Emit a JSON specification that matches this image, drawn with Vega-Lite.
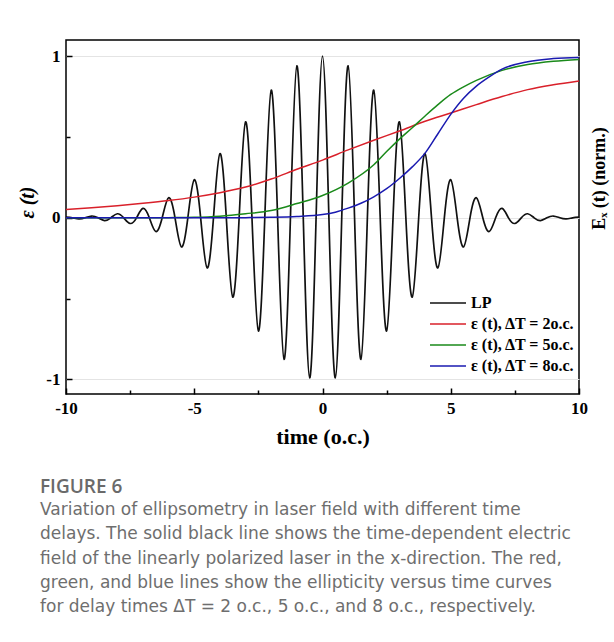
{
  "$schema": "https://vega.github.io/schema/vega-lite/v6.json",
  "width": 513,
  "height": 354,
  "autosize": {"type": "none"},
  "padding": {"left": 66, "top": 40, "right": 35, "bottom": 248},
  "background": "white",
  "datasets": {
    "lp": [
      {"t": -10, "v": 0.004, "s": "LP"}, {"t": -9.75, "v": 0, "s": "LP"}, {"t": -9.5, "v": -0.007, "s": "LP"}, {"t": -9.25, "v": 0, "s": "LP"},
      {"t": -9, "v": 0.011, "s": "LP"}, {"t": -8.75, "v": 0, "s": "LP"}, {"t": -8.5, "v": -0.017, "s": "LP"}, {"t": -8.25, "v": 0, "s": "LP"},
      {"t": -8, "v": 0.025, "s": "LP"}, {"t": -7.75, "v": 0, "s": "LP"}, {"t": -7.5, "v": -0.035, "s": "LP"}, {"t": -7.25, "v": 0, "s": "LP"},
      {"t": -7, "v": 0.058, "s": "LP"}, {"t": -6.75, "v": 0, "s": "LP"}, {"t": -6.5, "v": -0.085, "s": "LP"}, {"t": -6.25, "v": 0, "s": "LP"},
      {"t": -6, "v": 0.124, "s": "LP"}, {"t": -5.75, "v": 0, "s": "LP"}, {"t": -5.5, "v": -0.18, "s": "LP"}, {"t": -5.25, "v": 0, "s": "LP"},
      {"t": -5, "v": 0.235, "s": "LP"}, {"t": -4.75, "v": 0, "s": "LP"}, {"t": -4.5, "v": -0.31, "s": "LP"}, {"t": -4.25, "v": 0, "s": "LP"},
      {"t": -4, "v": 0.397, "s": "LP"}, {"t": -3.75, "v": 0, "s": "LP"}, {"t": -3.5, "v": -0.49, "s": "LP"}, {"t": -3.25, "v": 0, "s": "LP"},
      {"t": -3, "v": 0.593, "s": "LP"}, {"t": -2.75, "v": 0, "s": "LP"}, {"t": -2.5, "v": -0.7, "s": "LP"}, {"t": -2.25, "v": 0, "s": "LP"},
      {"t": -2, "v": 0.79, "s": "LP"}, {"t": -1.75, "v": 0, "s": "LP"}, {"t": -1.5, "v": -0.875, "s": "LP"}, {"t": -1.25, "v": 0, "s": "LP"},
      {"t": -1, "v": 0.94, "s": "LP"}, {"t": -0.75, "v": 0, "s": "LP"}, {"t": -0.5, "v": -0.99, "s": "LP"}, {"t": -0.25, "v": 0, "s": "LP"},
      {"t": 0, "v": 1.0, "s": "LP"},
      {"t": 0.25, "v": 0, "s": "LP"}, {"t": 0.5, "v": -0.99, "s": "LP"}, {"t": 0.75, "v": 0, "s": "LP"}, {"t": 1, "v": 0.94, "s": "LP"},
      {"t": 1.25, "v": 0, "s": "LP"}, {"t": 1.5, "v": -0.875, "s": "LP"}, {"t": 1.75, "v": 0, "s": "LP"}, {"t": 2, "v": 0.79, "s": "LP"},
      {"t": 2.25, "v": 0, "s": "LP"}, {"t": 2.5, "v": -0.7, "s": "LP"}, {"t": 2.75, "v": 0, "s": "LP"}, {"t": 3, "v": 0.593, "s": "LP"},
      {"t": 3.25, "v": 0, "s": "LP"}, {"t": 3.5, "v": -0.49, "s": "LP"}, {"t": 3.75, "v": 0, "s": "LP"}, {"t": 4, "v": 0.397, "s": "LP"},
      {"t": 4.25, "v": 0, "s": "LP"}, {"t": 4.5, "v": -0.31, "s": "LP"}, {"t": 4.75, "v": 0, "s": "LP"}, {"t": 5, "v": 0.235, "s": "LP"},
      {"t": 5.25, "v": 0, "s": "LP"}, {"t": 5.5, "v": -0.18, "s": "LP"}, {"t": 5.75, "v": 0, "s": "LP"}, {"t": 6, "v": 0.124, "s": "LP"},
      {"t": 6.25, "v": 0, "s": "LP"}, {"t": 6.5, "v": -0.085, "s": "LP"}, {"t": 6.75, "v": 0, "s": "LP"}, {"t": 7, "v": 0.058, "s": "LP"},
      {"t": 7.25, "v": 0, "s": "LP"}, {"t": 7.5, "v": -0.035, "s": "LP"}, {"t": 7.75, "v": 0, "s": "LP"}, {"t": 8, "v": 0.025, "s": "LP"},
      {"t": 8.25, "v": 0, "s": "LP"}, {"t": 8.5, "v": -0.017, "s": "LP"}, {"t": 8.75, "v": 0, "s": "LP"}, {"t": 9, "v": 0.011, "s": "LP"},
      {"t": 9.25, "v": 0, "s": "LP"}, {"t": 9.5, "v": -0.007, "s": "LP"}, {"t": 9.75, "v": 0, "s": "LP"}, {"t": 10, "v": 0.004, "s": "LP"}
    ],
    "eps": [
      {"t": -10, "v": 0.052, "s": "ε (t), ΔT = 2o.c."}, {"t": -9, "v": 0.062, "s": "ε (t), ΔT = 2o.c."}, {"t": -8, "v": 0.075, "s": "ε (t), ΔT = 2o.c."},
      {"t": -7, "v": 0.09, "s": "ε (t), ΔT = 2o.c."}, {"t": -6, "v": 0.107, "s": "ε (t), ΔT = 2o.c."}, {"t": -5, "v": 0.128, "s": "ε (t), ΔT = 2o.c."},
      {"t": -4, "v": 0.155, "s": "ε (t), ΔT = 2o.c."}, {"t": -3, "v": 0.19, "s": "ε (t), ΔT = 2o.c."}, {"t": -2, "v": 0.24, "s": "ε (t), ΔT = 2o.c."},
      {"t": -1, "v": 0.3, "s": "ε (t), ΔT = 2o.c."}, {"t": 0, "v": 0.357, "s": "ε (t), ΔT = 2o.c."}, {"t": 1, "v": 0.42, "s": "ε (t), ΔT = 2o.c."},
      {"t": 2, "v": 0.48, "s": "ε (t), ΔT = 2o.c."}, {"t": 3, "v": 0.537, "s": "ε (t), ΔT = 2o.c."}, {"t": 4, "v": 0.597, "s": "ε (t), ΔT = 2o.c."},
      {"t": 5, "v": 0.648, "s": "ε (t), ΔT = 2o.c."}, {"t": 6, "v": 0.7, "s": "ε (t), ΔT = 2o.c."}, {"t": 7, "v": 0.75, "s": "ε (t), ΔT = 2o.c."},
      {"t": 8, "v": 0.793, "s": "ε (t), ΔT = 2o.c."}, {"t": 9, "v": 0.823, "s": "ε (t), ΔT = 2o.c."}, {"t": 10, "v": 0.847, "s": "ε (t), ΔT = 2o.c."},
      {"t": -10, "v": 0, "s": "ε (t), ΔT = 5o.c."}, {"t": -7, "v": 0, "s": "ε (t), ΔT = 5o.c."}, {"t": -6, "v": 0.001, "s": "ε (t), ΔT = 5o.c."},
      {"t": -5, "v": 0.003, "s": "ε (t), ΔT = 5o.c."}, {"t": -4, "v": 0.01, "s": "ε (t), ΔT = 5o.c."}, {"t": -3, "v": 0.025, "s": "ε (t), ΔT = 5o.c."},
      {"t": -2, "v": 0.045, "s": "ε (t), ΔT = 5o.c."}, {"t": -1, "v": 0.088, "s": "ε (t), ΔT = 5o.c."}, {"t": 0, "v": 0.138, "s": "ε (t), ΔT = 5o.c."},
      {"t": 1, "v": 0.215, "s": "ε (t), ΔT = 5o.c."}, {"t": 2, "v": 0.328, "s": "ε (t), ΔT = 5o.c."}, {"t": 2.5, "v": 0.41, "s": "ε (t), ΔT = 5o.c."},
      {"t": 3, "v": 0.487, "s": "ε (t), ΔT = 5o.c."}, {"t": 3.5, "v": 0.557, "s": "ε (t), ΔT = 5o.c."}, {"t": 4, "v": 0.63, "s": "ε (t), ΔT = 5o.c."},
      {"t": 4.5, "v": 0.7, "s": "ε (t), ΔT = 5o.c."}, {"t": 5, "v": 0.763, "s": "ε (t), ΔT = 5o.c."}, {"t": 5.5, "v": 0.81, "s": "ε (t), ΔT = 5o.c."},
      {"t": 6, "v": 0.85, "s": "ε (t), ΔT = 5o.c."}, {"t": 7, "v": 0.912, "s": "ε (t), ΔT = 5o.c."}, {"t": 8, "v": 0.948, "s": "ε (t), ΔT = 5o.c."},
      {"t": 9, "v": 0.968, "s": "ε (t), ΔT = 5o.c."}, {"t": 10, "v": 0.98, "s": "ε (t), ΔT = 5o.c."},
      {"t": -10, "v": 0, "s": "ε (t), ΔT = 8o.c."}, {"t": -4, "v": 0, "s": "ε (t), ΔT = 8o.c."}, {"t": -3, "v": 0.001, "s": "ε (t), ΔT = 8o.c."},
      {"t": -2, "v": 0.003, "s": "ε (t), ΔT = 8o.c."}, {"t": -1, "v": 0.008, "s": "ε (t), ΔT = 8o.c."}, {"t": 0, "v": 0.02, "s": "ε (t), ΔT = 8o.c."},
      {"t": 0.5, "v": 0.035, "s": "ε (t), ΔT = 8o.c."}, {"t": 1, "v": 0.06, "s": "ε (t), ΔT = 8o.c."}, {"t": 1.5, "v": 0.09, "s": "ε (t), ΔT = 8o.c."},
      {"t": 2, "v": 0.13, "s": "ε (t), ΔT = 8o.c."}, {"t": 2.5, "v": 0.18, "s": "ε (t), ΔT = 8o.c."}, {"t": 3, "v": 0.243, "s": "ε (t), ΔT = 8o.c."},
      {"t": 3.5, "v": 0.315, "s": "ε (t), ΔT = 8o.c."}, {"t": 4, "v": 0.4, "s": "ε (t), ΔT = 8o.c."}, {"t": 4.5, "v": 0.52, "s": "ε (t), ΔT = 8o.c."},
      {"t": 5, "v": 0.64, "s": "ε (t), ΔT = 8o.c."}, {"t": 5.5, "v": 0.74, "s": "ε (t), ΔT = 8o.c."}, {"t": 6, "v": 0.815, "s": "ε (t), ΔT = 8o.c."},
      {"t": 6.5, "v": 0.872, "s": "ε (t), ΔT = 8o.c."}, {"t": 7, "v": 0.92, "s": "ε (t), ΔT = 8o.c."}, {"t": 8, "v": 0.966, "s": "ε (t), ΔT = 8o.c."},
      {"t": 9, "v": 0.985, "s": "ε (t), ΔT = 8o.c."}, {"t": 10, "v": 0.992, "s": "ε (t), ΔT = 8o.c."}
    ]
  },
  "title": {
    "text": "FIGURE 6",
    "subtitle": [
      "Variation of ellipsometry in laser field with different time",
      "delays. The solid black line shows the time-dependent electric",
      "field of the linearly polarized laser in the x-direction. The red,",
      "green, and blue lines show the ellipticity versus time curves",
      "for delay times ΔT = 2 o.c., 5 o.c., and 8 o.c., respectively."
    ],
    "orient": "bottom",
    "anchor": "start",
    "frame": "group",
    "font": "Open Sans",
    "fontSize": 19,
    "fontWeight": 600,
    "color": "#6a6a6a",
    "subtitleFont": "DejaVu Sans",
    "subtitleFontSize": 17,
    "subtitleColor": "#6e6e6e",
    "subtitleLineHeight": 24.3,
    "subtitlePadding": 5,
    "offset": 31,
    "dx": -26
  },
  "layer": [
    {
      "data": {"name": "lp"},
      "mark": {"type": "line", "interpolate": "natural", "strokeWidth": 1.7},
      "encoding": {
        "x": {
          "field": "t", "type": "quantitative",
          "scale": {"domain": [-10, 10], "nice": false},
          "axis": {
            "values": [-10, -7.5, -5, -2.5, 0, 2.5, 5, 7.5, 10],
            "labelExpr": "datum.value % 5 === 0 ? (datum.value < 0 ? '-' + abs(datum.value) : '' + datum.value) : ''",
            "domain": false, "grid": false,
            "tickColor": "black", "tickWidth": 1.5,
            "tickSize": {"condition": {"test": "datum.value % 5 === 0", "value": -6}, "value": -4},
            "labelFont": "Liberation Serif", "labelFontSize": 17, "labelFontWeight": "bold", "labelColor": "black",
            "labelPadding": 12, "labelFlush": false,
            "title": "time (o.c.)", "titleFont": "Liberation Serif", "titleFontSize": 22, "titleFontWeight": "bold",
            "titleColor": "black", "titleBaseline": "middle", "titleY": 42
          }
        },
        "y": {
          "field": "v", "type": "quantitative",
          "scale": {"domain": [-1.09, 1.1], "nice": false},
          "axis": {
            "orient": "right", "labels": false, "ticks": false, "domain": false, "grid": false,
            "title": "Eₓ (t) (norm.)", "titleFont": "Liberation Serif", "titleFontSize": 18, "titleFontWeight": "bold",
            "titleColor": "black", "titleAngle": 270, "titleAlign": "center", "titleBaseline": "middle",
            "titleX": 20, "titleY": 138
          }
        },
        "color": {
          "field": "s", "type": "nominal",
          "scale": {
            "domain": ["LP", "ε (t), ΔT = 2o.c.", "ε (t), ΔT = 5o.c.", "ε (t), ΔT = 8o.c."],
            "range": ["#111111", "#d9202a", "#1a8a1a", "#1a1ab0"]
          },
          "legend": {
            "orient": "none", "legendX": 363, "legendY": 255, "title": null,
            "symbolType": "stroke", "symbolSize": 1296, "symbolStrokeWidth": 1.5,
            "labelFont": "Liberation Serif", "labelFontSize": 16, "labelFontWeight": "bold", "labelColor": "black",
            "labelOffset": 4, "clipHeight": 16, "rowPadding": 5, "padding": 0
          }
        }
      }
    },
    {
      "data": {"name": "eps"},
      "mark": {"type": "line", "interpolate": "monotone", "strokeWidth": 1.5},
      "encoding": {
        "x": {"field": "t", "type": "quantitative"},
        "y": {
          "field": "v", "type": "quantitative",
          "scale": {"domain": [-1.09, 1.1], "nice": false},
          "axis": {
            "orient": "left",
            "values": [-1, -0.5, 0, 0.5, 1],
            "labelExpr": "datum.value === 1 ? '1' : datum.value === 0 ? '0' : datum.value === -1 ? '-1' : ''",
            "domain": false,
            "grid": true, "gridColor": "#e4e4e4", "gridWidth": 1,
            "gridOpacity": {"condition": {"test": "datum.value % 1 === 0", "value": 1}, "value": 0},
            "tickColor": "black", "tickWidth": 1.5,
            "tickSize": {"condition": {"test": "datum.value % 1 === 0", "value": -6}, "value": -4},
            "labelFont": "Liberation Serif", "labelFontSize": 17, "labelFontWeight": "bold", "labelColor": "black",
            "labelPadding": 12, "labelFlush": false,
            "title": "ε (t)", "titleFont": "Liberation Serif", "titleFontSize": 20, "titleFontWeight": "bold",
            "titleFontStyle": "italic", "titleColor": "black", "titleAngle": 270, "titleAlign": "center",
            "titleBaseline": "middle", "titleX": -39, "titleY": 162
          }
        },
        "color": {"field": "s", "type": "nominal"}
      }
    }
  ],
  "resolve": {"scale": {"y": "independent"}},
  "config": {"view": {"stroke": "black", "strokeWidth": 1.5}}
}
